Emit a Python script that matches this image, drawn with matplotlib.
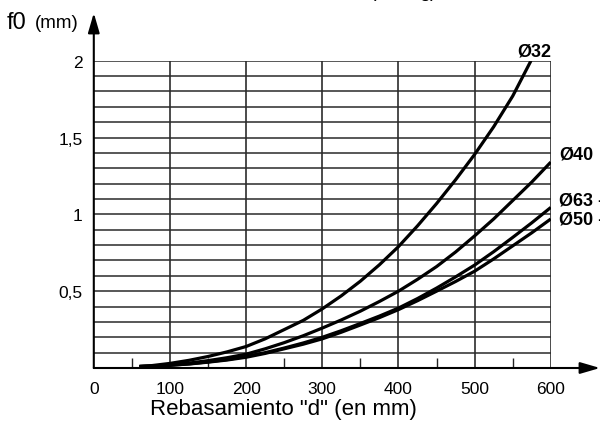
import numpy as np
import matplotlib.pyplot as plt

plt.rcParams['font.family'] = ['Liberation Sans', 'DejaVu Sans']

# rebasamiento d (mm) and flecha f0 (mm)
d = [60, 75, 100, 125, 150, 175, 200, 225, 250, 275, 300, 325, 350,
     375, 400, 425, 450, 475, 500, 525, 550, 575, 600]
d32 = [60, 75, 100, 125, 150, 175, 200, 225, 250, 275, 300, 325, 350,
       375, 400, 425, 450, 475, 500, 525, 550, 574]
f32 = [0.01, 0.015, 0.03, 0.05, 0.075, 0.105, 0.14, 0.19, 0.25, 0.31, 0.385, 0.47, 0.565,
       0.672, 0.79, 0.925, 1.07, 1.225, 1.39, 1.57, 1.77, 2.0]
f40 = [0.01, 0.013, 0.02, 0.032, 0.048, 0.067, 0.09, 0.125, 0.165, 0.21, 0.26, 0.313, 0.37,
       0.433, 0.50, 0.577, 0.66, 0.755, 0.86, 0.97, 1.09, 1.21, 1.34]
f63 = [0.01, 0.012, 0.018, 0.027, 0.04, 0.055, 0.075, 0.10, 0.13, 0.163, 0.20, 0.243, 0.29,
       0.338, 0.39, 0.452, 0.52, 0.593, 0.67, 0.757, 0.85, 0.945, 1.045]
f50 = [0.01, 0.012, 0.018, 0.026, 0.038, 0.052, 0.07, 0.095, 0.125, 0.155, 0.19, 0.233, 0.28,
       0.328, 0.38, 0.438, 0.50, 0.563, 0.63, 0.71, 0.795, 0.88, 0.97]

xticks = [0, 100, 200, 300, 400, 500, 600]
yticks = [0.5, 1, 1.5, 2]
ylabels = ['0,5', '1', '1,5', '2']

fig = plt.figure(figsize=(6, 4.27), dpi=100)
ax = fig.add_axes([0.1563, 0.1358, 0.7617, 0.7197])
ax.set_xlim(0, 600)
ax.set_ylim(0, 2)

# grid
for x in xticks[1:]:
    ax.axvline(x, color='#1a1a1a', lw=1.1, zorder=1)
for y in np.arange(1, 21) / 10:
    ax.axhline(y, color='#2a2a2a', lw=1.1, zorder=1)

for s in ['top', 'right', 'left', 'bottom']:
    ax.spines[s].set_visible(False)

ax.set_xticks(xticks)
ax.set_xticklabels([str(x) for x in xticks], fontsize=12.5)
ax.set_yticks(yticks)
ax.set_yticklabels(ylabels, fontsize=12.5)
ax.tick_params(axis='x', length=0, pad=9)
ax.tick_params(axis='y', length=0, pad=8)
ax.set_xticks([50, 150, 250, 350, 450, 550], minor=True)
ax.tick_params(axis='x', which='minor', direction='in', length=7, width=1, color='#222222')

for xs, ys in [(d32, f32), (d, f40), (d, f63), (d, f50)]:
    ax.plot(xs, ys, color='black', lw=2.3, zorder=3, solid_capstyle='butt',
            solid_joinstyle='round')

# axes with arrows
ax.annotate('', xy=(93.8 / 600, 1 - 14 / 427), xytext=(93.8 / 600, 1 - 369 / 427),
            xycoords='figure fraction',
            arrowprops=dict(arrowstyle='-|>,head_length=1.2,head_width=0.35', color='black', lw=1.5,
                            shrinkA=0, shrinkB=0))
ax.annotate('', xy=(600 / 600, 1 - 369 / 427), xytext=(93.8 / 600, 1 - 369 / 427),
            xycoords='figure fraction',
            arrowprops=dict(arrowstyle='-|>,head_length=1.2,head_width=0.35', color='black', lw=1.5,
                            shrinkA=0, shrinkB=0))

fig.text(283 / 600, 1 - 410 / 427, 'Rebasamiento "d" (en mm)', fontsize=16,
         ha='center', va='center')

fig.text(7 / 600, 1 - 23 / 427, 'f0', fontsize=17, va='center', ha='left')
fig.text(35 / 600, 1 - 23 / 427, '(mm)', fontsize=13.5, va='center', ha='left')

# caption cut off by the top edge
fig.text(349 / 600, 1 + 3 / 427, 'f$_0$ (en mg)', fontsize=14, va='baseline', ha='left')

lab = dict(fontsize=13, fontweight='bold', va='center', ha='left')
fig.text(517 / 600, 1 - 52 / 427, 'Ø32', **lab)
fig.text(559 / 600, 1 - 155 / 427, 'Ø40', **lab)
fig.text(559 / 600, 1 - 201 / 427, 'Ø63 -', **lab)
fig.text(559 / 600, 1 - 220 / 427, 'Ø50 -', **lab)

fig.savefig('out.png', dpi=100)
